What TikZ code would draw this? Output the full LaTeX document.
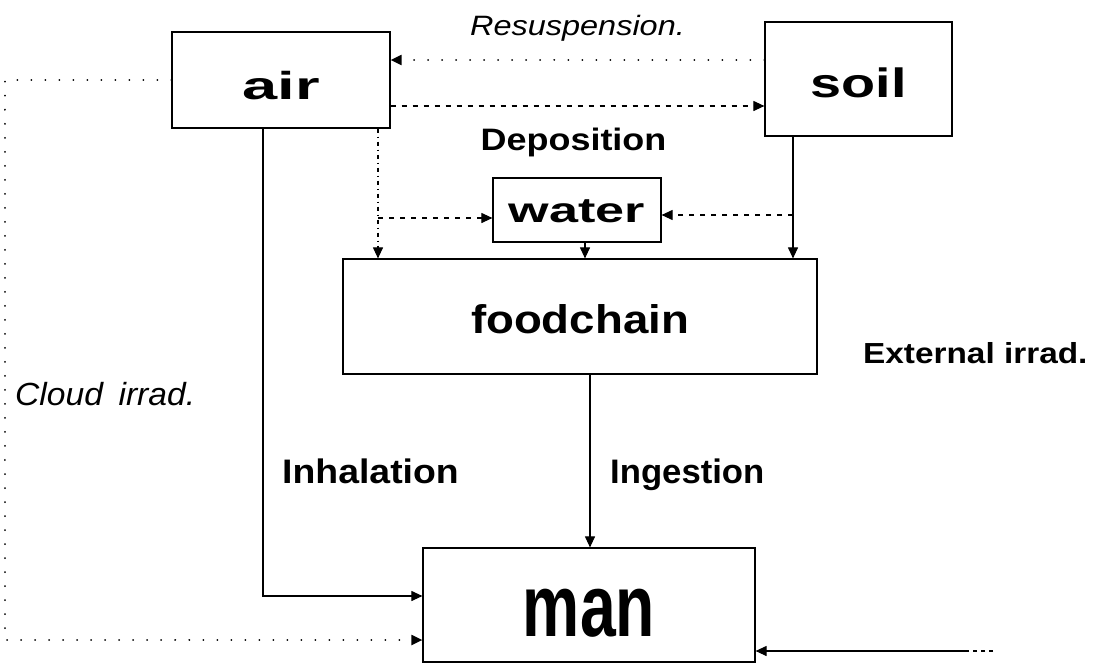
\documentclass[tikz,border=0pt]{standalone}
\usepackage{fontspec}
\setmainfont{Liberation Sans}
\usepackage{graphicx}
\usetikzlibrary{arrows.meta}
\newcommand{\txt}[3]{{\fontsize{#1pt}{#1pt}\selectfont\scalebox{#2}[1]{#3}}}
\begin{document}
\begin{tikzpicture}[x=1pt,y=-1pt,
  box/.style={draw, line width=1.2pt, inner sep=0pt, text depth=0pt},
  lbl/.style={inner sep=0pt, anchor=base west},
  tip/.style={-{Triangle[length=11pt,width=10pt]}},
  ln/.style={line width=1.1pt},
  dotl/.style={line width=2pt, line cap=round, dash pattern=on 0.01pt off 14pt},
  dashl/.style={line width=1.1pt, dash pattern=on 5pt off 6pt},
  dashs/.style={line width=1.1pt, dash pattern=on 4pt off 4pt on 1pt off 4pt}
]
\useasboundingbox (0,0) rectangle (1104,664);

% boxes
\node[box, minimum width=218pt, minimum height=96pt, text height=38pt] (air) at (281,80) {\txt{39}{1.62}{\bfseries air}};
\node[box, minimum width=187pt, minimum height=114pt, text height=36pt] (soil) at (858.5,79) {\txt{41}{1.36}{\bfseries soil}};
\node[box, minimum width=168pt, minimum height=64pt, text height=24pt] (water) at (577,210) {\txt{35}{1.49}{\bfseries water}};
\node[box, minimum width=474pt, minimum height=115pt, text height=33pt] (food) at (580,316.5) {\txt{40}{1.14}{\bfseries foodchain}};
\node[box, minimum width=332pt, minimum height=114pt, text height=62pt] (man) at (589,605) {\txt{88}{0.73}{\bfseries man}};

% helper coordinates
\coordinate (rs) at (600,60);
\coordinate (dp) at (600,106);
\coordinate (c1) at (5,80);
\coordinate (c2) at (5,640);
\coordinate (ih) at (263,596);
\coordinate (ad) at (378,218);
\coordinate (sd) at (793,215);
\coordinate (wf) at (585,250);
\coordinate (fm) at (590,450);
\coordinate (ext) at (993,651);

% connectors
\draw[dotl, tip] (soil.west |- rs) -- (air.east |- rs);
\draw[dashl, tip] (air.east |- dp) -- (soil.west |- dp);
\draw[dotl, tip] (air.west) -- (c1) -- (c2) -- (man.west |- c2);
\draw[ln, tip] (air.south -| ih) -- (ih) -- (man.west |- ih);
\draw[dashs, tip] (air.south -| ad) -- (food.north -| ad);
\draw[dashl, tip] (ad) -- (water.west |- ad);
\draw[ln, tip] (soil.south -| sd) -- (food.north -| sd);
\draw[dashl, tip] (sd) -- (water.east |- sd);
\draw[ln, tip] (water.south -| wf) -- (food.north -| wf);
\draw[ln, tip] (food.south -| fm) -- (man.north -| fm);
\draw[ln, tip, dash pattern=on 4pt off 4pt on 4pt off 4pt on 4pt off 4pt on 300pt] (ext) -- (man.east |- ext);

% labels
\node[inner sep=0pt, anchor=base] (resus) at (577.5,35) {\txt{28}{1.16}{\itshape Resuspension.}};
\node[inner sep=0pt, anchor=base] (depo) at (573.5,150) {\txt{31}{1.16}{\bfseries Deposition}};
\node[lbl] (cloud) at (15,405) {\txt{32}{1.05}{\itshape Cloud\hspace{6pt} irrad.}};
\node[lbl] (inhlbl) at (282,483) {\txt{34}{1.1}{\bfseries Inhalation}};
\node[lbl] (inglbl) at (610,483) {\txt{34}{1.02}{\bfseries Ingestion}};
\node[lbl] (extlbl) at (863,363) {\txt{29}{1.15}{\bfseries External irrad.}};
\end{tikzpicture}
\end{document}
